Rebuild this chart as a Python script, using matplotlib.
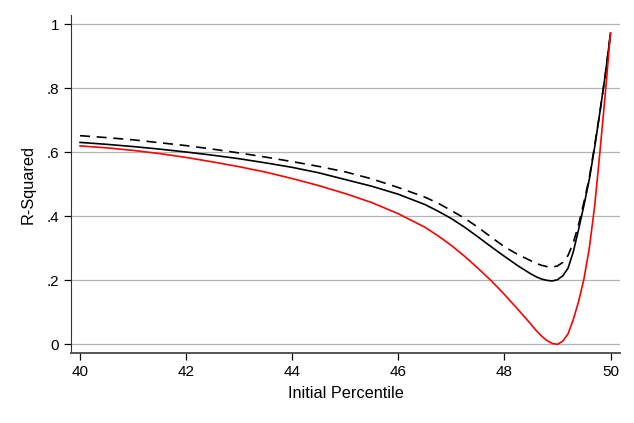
import numpy as np
import matplotlib.pyplot as plt

plt.rcParams['font.family'] = ['Liberation Sans', 'DejaVu Sans']

# values
pct = [40, 40.5, 41, 41.5, 42, 42.5, 43, 43.5, 44, 44.5, 45, 45.5, 46, 46.5,
       46.75, 47, 47.25, 47.5, 47.75, 48, 48.25, 48.5, 48.6, 48.7, 48.8, 48.9,
       49.0, 49.1, 49.2, 49.3, 49.4, 49.5, 49.6, 49.7, 49.8, 49.9, 50]

r2_dash = [0.652, 0.646, 0.639, 0.630, 0.621, 0.610, 0.598, 0.585, 0.571, 0.556,
           0.539, 0.517, 0.490, 0.460, 0.441, 0.418, 0.394, 0.366, 0.335, 0.305,
           0.281, 0.261, 0.253, 0.247, 0.243, 0.241, 0.245, 0.256, 0.278, 0.318,
           0.375, 0.445, 0.520, 0.620, 0.725, 0.840, 0.972]

r2_solid = [0.631, 0.625, 0.618, 0.610, 0.601, 0.591, 0.580, 0.567, 0.553, 0.536,
            0.515, 0.494, 0.469, 0.437, 0.416, 0.393, 0.366, 0.336, 0.305, 0.275,
            0.246, 0.220, 0.211, 0.204, 0.200, 0.198, 0.202, 0.214, 0.238, 0.290,
            0.360, 0.435, 0.515, 0.615, 0.725, 0.840, 0.972]

r2_red = [0.620, 0.614, 0.606, 0.596, 0.584, 0.570, 0.555, 0.538, 0.518, 0.496,
          0.471, 0.443, 0.408, 0.366, 0.339, 0.309, 0.275, 0.238, 0.199, 0.156,
          0.110, 0.063, 0.043, 0.026, 0.012, 0.003, 0.000, 0.010, 0.033, 0.078,
          0.135, 0.205, 0.300, 0.430, 0.600, 0.780, 0.972]

xticks = [40, 42, 44, 46, 48, 50]
yticks = [0, 0.2, 0.4, 0.6, 0.8, 1]
ylabels = ['0', '.2', '.4', '.6', '.8', '1']

fig = plt.figure(figsize=(6.34, 4.23), dpi=100)
ax = fig.add_axes([0.112, 0.1655, 0.866, 0.799])

for y in yticks:
    ax.axhline(y, color='#b4b4b4', lw=0.9, zorder=1)

ax.plot(pct, r2_dash, color='black', lw=1.2, ls=(0, (6, 4)), zorder=3)
ax.plot(pct, r2_solid, color='black', lw=1.2, zorder=3)
ax.plot(pct, r2_red, color='red', lw=1.2, zorder=3)

ax.set_xlim(39.83, 50.18)
ax.set_ylim(-0.027, 1.029)
ax.set_xticks(xticks)
ax.set_yticks(yticks)
ax.set_yticklabels(ylabels)
ax.tick_params(direction='out', length=5, width=0.9, labelsize=11, colors='black')
ax.spines['top'].set_visible(False)
ax.spines['right'].set_visible(False)
ax.spines['left'].set_color('#333333')
ax.spines['bottom'].set_color('#555555')
ax.spines['bottom'].set_linewidth(1.4)
ax.set_xlabel('Initial Percentile', fontsize=11.7, labelpad=5)
ax.set_ylabel('R-Squared', fontsize=11.7, labelpad=8)

fig.savefig('out.png', dpi=100)
plt.close()
